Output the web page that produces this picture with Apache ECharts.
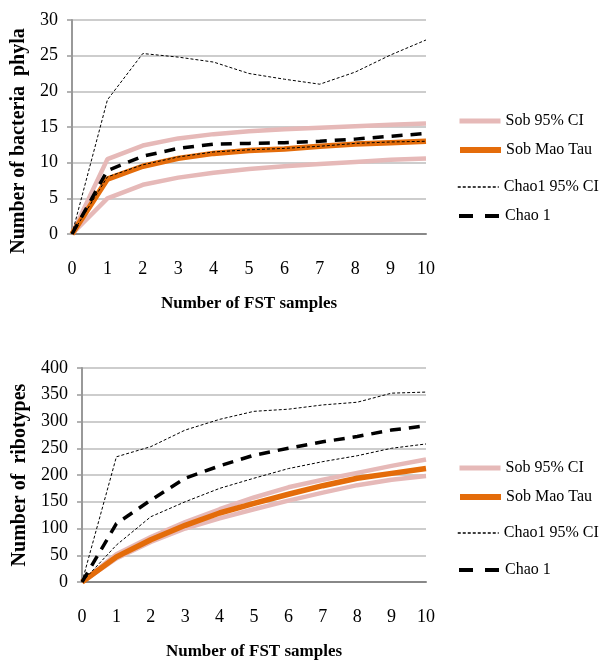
<!DOCTYPE html>
<html>
<head>
<meta charset="utf-8">
<script src="https://cdn.jsdelivr.net/npm/echarts@6/dist/echarts.min.js"></script>
<style>
    html, body {margin: 0; padding: 0; background: #fff;}
    #chart {width: 610px; height: 661px;}
</style>
</head>
<body>
<div id="chart"></div>
<script>
const samples = [0, 1, 2, 3, 4, 5, 6, 7, 8, 9, 10];

// top chart: bacteria phyla
const phylaSobUpper = [0, 10.5, 12.4, 13.4, 14.0, 14.4, 14.7, 14.9, 15.1, 15.3, 15.5];
const phylaSobLower = [0, 5.0, 6.9, 7.9, 8.6, 9.1, 9.5, 9.8, 10.1, 10.4, 10.6];
const phylaSobMaoTau = [0, 7.7, 9.5, 10.6, 11.3, 11.7, 11.9, 12.3, 12.6, 12.8, 13.0];
const phylaChaoUpper = [0, 18.8, 25.3, 24.8, 24.1, 22.5, 21.7, 21.0, 22.7, 25.1, 27.2];
const phylaChaoLower = [0, 8.0, 9.7, 10.8, 11.5, 11.8, 12.0, 12.3, 12.7, 12.9, 13.0];
const phylaChao1 = [0, 8.9, 10.9, 12.0, 12.6, 12.7, 12.8, 13.0, 13.3, 13.7, 14.1];

// bottom chart: ribotypes
const riboSobUpper = [0, 52, 84, 112, 136, 158, 177, 191, 204, 217, 229];
const riboSobLower = [0, 44, 75, 100, 119, 136, 152, 167, 181, 191, 198];
const riboSobMaoTau = [0, 47, 79, 106, 129, 147, 164, 180, 194, 203, 212];
const riboChaoUpper = [0, 234, 253, 284, 304, 319, 323, 331, 336, 353, 355];
const riboChaoLower = [0, 69, 122, 150, 175, 194, 212, 225, 236, 250, 258];
const riboChao1 = [0, 109, 153, 194, 217, 237, 250, 262, 272, 284, 292];

const legendNames = ["Sob 95% CI", "Sob Mao Tau", "Chao1 95% CI", "Chao 1"];

const serif = "Liberation Serif";
const pink = "#E6B9B8";
const orange = "#E46C0A";

const pairs = (ys) => samples.map((x, i) => [x, ys[i]]);

const styles = {
    "Sob 95% CI": {color: pink, width: 4.5, type: "solid", legendType: "solid"},
    "Sob Mao Tau": {color: orange, width: 5.5, type: "solid", legendType: "solid"},
    "Chao1 95% CI": {color: "#000", width: 1, type: [3, 2], legendType: [3, 2]},
    "Chao 1": {color: "#000", width: 3.5, type: [11, 8], legendType: [14, 12]}
};

function line(name, ys, idx) {
    const s = styles[name];
    return {
        name: name,
        type: "line",
        xAxisIndex: idx,
        yAxisIndex: idx,
        data: pairs(ys),
        showSymbol: false,
        symbol: "none",
        animation: false,
        color: s.color,
        lineStyle: {color: s.color, width: s.width, type: s.type}
    };
}

function xAxis(idx) {
    return {
        type: "value",
        gridIndex: idx,
        min: 0,
        max: 10,
        interval: 1,
        name: "Number of FST samples",
        nameLocation: "middle",
        nameGap: 61,
        nameTextStyle: {fontFamily: serif, fontWeight: "bold", fontSize: 17, color: "#000"},
        axisLine: {show: true, onZero: false, lineStyle: {color: "#888", width: 2}},
        axisTick: {show: false},
        splitLine: {show: false},
        axisLabel: {fontFamily: serif, fontSize: 18, color: "#000", margin: 26}
    };
}

function yAxis(idx, max, interval, name, gap, shift) {
    return {
        type: "value",
        gridIndex: idx,
        min: 0,
        max: max,
        interval: interval,
        name: name,
        nameLocation: "middle",
        nameGap: gap,
        nameTextStyle: {
            fontFamily: serif, fontWeight: "bold", fontSize: 20, color: "#000",
            padding: [0, shift, 0, 0]
        },
        axisLine: {show: true, lineStyle: {color: "#999", width: 2}},
        axisTick: {show: true, length: 5, lineStyle: {color: "#999", width: 1.5}},
        splitLine: {show: true, lineStyle: {color: "#bdbdbd", width: 1.5}},
        axisLabel: {fontFamily: serif, fontSize: 18, color: "#000", margin: 14}
    };
}

// one legend component per entry, so each row sits where it does in the figure
const legendRows = [[119, 148, 185, 214], [466, 495, 531, 568]];
const legends = [];
legendRows.forEach(rows => {
    rows.forEach((y, i) => {
        const s = styles[legendNames[i]];
        legends.push({
            data: [legendNames[i]],
            left: 457,
            top: y - 6,
            padding: 0,
            itemWidth: 41,
            itemHeight: 14,
            selectedMode: false,
            itemStyle: {color: "rgba(0,0,0,0)", borderWidth: 0},
            lineStyle: {width: s.width + 0.5, type: s.legendType, color: s.color},
            textStyle: {fontFamily: serif, fontSize: 16, color: "#000"}
        });
    });
});

const chart = echarts.init(document.getElementById("chart"), null, {renderer: "canvas"});
chart.setOption({
    backgroundColor: "#fff",
    animation: false,
    grid: [
        {left: 72, top: 20, width: 354, height: 214},
        {left: 82, top: 368, width: 344, height: 214}
    ],
    xAxis: [xAxis(0), xAxis(1)],
    yAxis: [
        yAxis(0, 30, 5, "Number of bacteria  phyla", 42, 28),
        yAxis(1, 400, 50, "Number of  ribotypes", 52, 0)
    ],
    legend: legends,
    series: [
        line("Sob 95% CI", phylaSobUpper, 0),
        line("Sob 95% CI", phylaSobLower, 0),
        line("Sob Mao Tau", phylaSobMaoTau, 0),
        line("Chao1 95% CI", phylaChaoUpper, 0),
        line("Chao1 95% CI", phylaChaoLower, 0),
        line("Chao 1", phylaChao1, 0),
        line("Sob 95% CI", riboSobUpper, 1),
        line("Sob 95% CI", riboSobLower, 1),
        line("Sob Mao Tau", riboSobMaoTau, 1),
        line("Chao1 95% CI", riboChaoUpper, 1),
        line("Chao1 95% CI", riboChaoLower, 1),
        line("Chao 1", riboChao1, 1)
    ]
});
</script>
</body>
</html>
